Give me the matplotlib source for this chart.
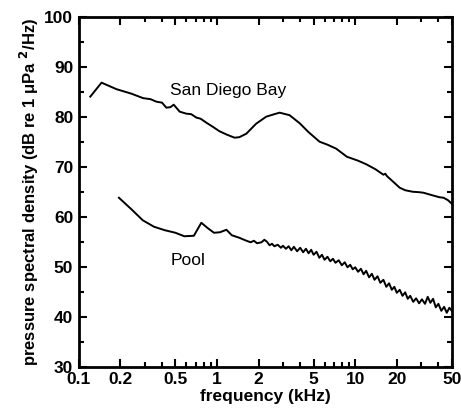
import matplotlib
matplotlib.use("Agg")
import matplotlib.pyplot as plt
from matplotlib.ticker import FixedLocator, NullFormatter, MultipleLocator

plt.rcParams['font.family'] = ['Liberation Sans', 'DejaVu Sans']

# San Diego Bay spectrum (kHz, dB)
bay_f = [0.121, 0.146, 0.187, 0.24, 0.292, 0.33, 0.364, 0.40, 0.43, 0.46, 0.486,
         0.537, 0.60, 0.65, 0.711, 0.76, 0.837, 0.93, 1.04, 1.18, 1.34, 1.45,
         1.63, 1.92, 2.27, 2.6, 2.84, 3.35, 3.96, 4.6, 5.52, 6.3, 7.29, 8.7,
         10.5, 12.0, 14.0, 16.0, 16.5, 17.0, 19.0, 21.0, 23.0, 26.0, 29.2, 31.2,
         35.0, 40.7, 43.6, 47.0, 50.0]
bay_db = [84.0, 86.8, 85.5, 84.6, 83.7, 83.5, 83.0, 82.8, 81.8, 81.9, 82.4,
          81.0, 80.6, 80.5, 79.8, 79.6, 78.8, 78.0, 77.1, 76.4, 75.8, 75.9,
          76.6, 78.6, 80.0, 80.5, 80.8, 80.3, 78.7, 76.9, 75.0, 74.4, 73.6, 72.0,
          71.2, 70.5, 69.5, 68.4, 68.6, 68.1, 66.9, 65.8, 65.3, 65.0, 64.9, 64.8,
          64.4, 63.9, 63.8, 63.3, 62.6]

# Pool spectrum (kHz, dB)
pool_f = [0.195, 0.24, 0.29, 0.35, 0.42, 0.5, 0.58, 0.68, 0.77, 0.85, 0.95,
          1.05, 1.17, 1.28, 1.45, 1.6, 1.75, 1.85, 1.95,
          2.1, 2.2, 2.3, 2.4, 2.5, 2.6, 2.75, 2.9, 3.0, 3.15, 3.3, 3.45, 3.6,
          3.8, 4.0, 4.2, 4.4, 4.6, 4.8, 5.0, 5.25, 5.5, 5.75, 6.0, 6.3, 6.6,
          6.9, 7.2, 7.6, 8.0, 8.4, 8.8, 9.2, 9.6, 10, 10.5, 11, 11.5, 12, 12.6,
          13.2, 13.8, 14.5, 15.2, 16, 16.8, 17.6, 18.4, 19.2, 20, 21, 22, 23,
          24, 25, 26.3, 27.6, 29, 30.4, 32, 33.5, 35, 36.6, 38.3, 40, 42, 44,
          46, 48, 50]
pool_db = [63.8, 61.5, 59.3, 58.0, 57.3, 56.8, 56.1, 56.2, 58.8, 57.8, 56.8,
           56.9, 57.4, 56.3, 55.8, 55.3, 54.9, 55.2, 54.7,
           54.9, 55.4, 55.0, 54.3, 54.6, 54.1, 54.4, 53.8, 54.2, 53.6, 54.1, 53.3, 54.0,
           53.1, 53.8, 52.9, 53.6, 52.7, 53.4, 52.4, 53.0, 51.8, 52.4, 51.4, 52.0, 51.1,
           51.6, 50.8, 51.3, 50.3, 50.9, 49.9, 50.4, 49.5, 49.9, 49.0, 49.6, 48.5, 49.2, 47.9,
           48.6, 47.4, 48.1, 46.8, 47.4, 46.0, 46.7, 45.4, 46.0, 44.8, 45.4, 44.2, 44.9,
           43.6, 44.2, 43.0, 43.7, 42.7, 43.5, 42.6, 44.0, 42.8, 43.6, 41.9, 42.6, 41.2, 42.0,
           40.8, 41.8, 41.2]

xticks = [0.1, 0.2, 0.5, 1, 2, 5, 10, 20, 50]
xticklabels = ["0.1", "0.2", "0.5", "1", "2", "5", "10", "20", "50"]
xminor = [0.3, 0.4, 0.6, 0.7, 0.8, 0.9, 3, 4, 6, 7, 8, 9, 30, 40]

fig = plt.figure(figsize=(4.61, 4.15), dpi=100)
ax = fig.add_axes([0.171, 0.116, 0.809, 0.844])

ax.plot(bay_f, bay_db, color='black', lw=1.4)
ax.plot(pool_f, pool_db, color='black', lw=1.4)

ax.set_xscale('log')
ax.set_xlim(0.1, 50)
ax.set_ylim(30, 100)
ax.xaxis.set_major_locator(FixedLocator(xticks))
ax.set_xticklabels(xticklabels)
ax.xaxis.set_minor_locator(FixedLocator(xminor))
ax.xaxis.set_minor_formatter(NullFormatter())
ax.yaxis.set_major_locator(MultipleLocator(10))
ax.yaxis.set_minor_locator(MultipleLocator(5))

ax.tick_params(which='both', direction='in', top=True, right=True, width=1.5,
               labelsize=12.5)
ax.tick_params(which='major', length=6, pad=4)
ax.tick_params(which='minor', length=3.5)
for lab in ax.get_xticklabels() + ax.get_yticklabels():
    lab.set_fontweight('bold')
for sp in ax.spines.values():
    sp.set_linewidth(2)

ax.text(1.21, 85.2, "San Diego Bay", fontsize=12.5, ha='center', va='center')
ax.text(0.62, 51.3, "Pool", fontsize=12.5, ha='center', va='center')

ax.set_xlabel("frequency (kHz)", fontsize=12.5, fontweight='bold', labelpad=1)
ax.set_ylabel("pressure spectral density (dB re 1 μPa $^{\\mathbf{2}}$/Hz)",
              fontsize=12, fontweight='bold', labelpad=2)

fig.savefig("out.png", dpi=100)
